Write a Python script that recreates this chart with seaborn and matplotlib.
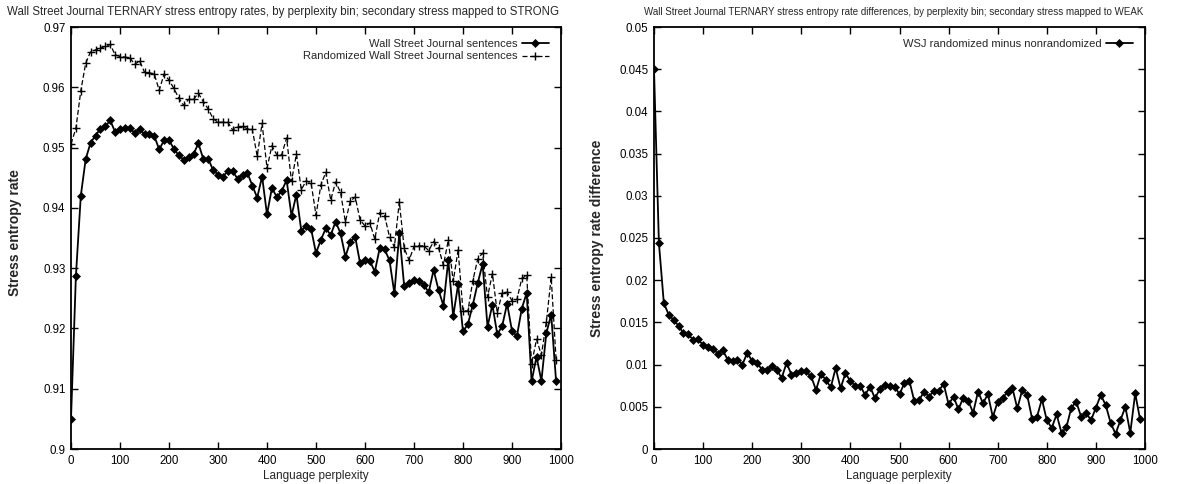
import numpy as np
import pandas as pd
import seaborn as sns
import matplotlib.pyplot as plt

# perplexity bins (lower edge of each bin of width 10)
perplexity = list(range(0, 1000, 10))

# stress entropy rate, WSJ sentences (secondary -> STRONG)
wsj_rate = [
    0.9050, 0.9287, 0.9420, 0.9481, 0.9508, 0.9520, 0.9531, 0.9535, 0.9545, 0.9526,
    0.9531, 0.9532, 0.9533, 0.9524, 0.9531, 0.9522, 0.9522, 0.9519, 0.9497, 0.9512,
    0.9512, 0.9498, 0.9487, 0.9480, 0.9484, 0.9489, 0.9507, 0.9481, 0.9481, 0.9463,
    0.9455, 0.9452, 0.9461, 0.9461, 0.9448, 0.9455, 0.9458, 0.9437, 0.9417, 0.9452,
    0.9389, 0.9433, 0.9418, 0.9428, 0.9446, 0.9387, 0.9422, 0.9362, 0.9370, 0.9365,
    0.9325, 0.9347, 0.9366, 0.9355, 0.9377, 0.9358, 0.9319, 0.9344, 0.9352, 0.9308,
    0.9313, 0.9312, 0.9294, 0.9333, 0.9331, 0.9313, 0.9258, 0.9358, 0.9270, 0.9276,
    0.9281, 0.9278, 0.9272, 0.9260, 0.9297, 0.9264, 0.9238, 0.9313, 0.9220, 0.9273,
    0.9195, 0.9207, 0.9239, 0.9275, 0.9307, 0.9203, 0.9239, 0.9190, 0.9204, 0.9241,
    0.9196, 0.9187, 0.9233, 0.9259, 0.9112, 0.9153, 0.9113, 0.9192, 0.9223, 0.9112,
]

# stress entropy rate, randomized WSJ sentences
random_rate = [
    0.9506, 0.9532, 0.9594, 0.9640, 0.9659, 0.9662, 0.9665, 0.9668, 0.9671, 0.9654,
    0.9651, 0.9650, 0.9649, 0.9638, 0.9644, 0.9625, 0.9624, 0.9622, 0.9595, 0.9622,
    0.9612, 0.9598, 0.9582, 0.9570, 0.9580, 0.9580, 0.9590, 0.9576, 0.9564, 0.9548,
    0.9542, 0.9542, 0.9542, 0.9529, 0.9534, 0.9535, 0.9531, 0.9530, 0.9486, 0.9540,
    0.9466, 0.9503, 0.9488, 0.9488, 0.9516, 0.9444, 0.9489, 0.9430, 0.9445, 0.9441,
    0.9388, 0.9438, 0.9459, 0.9413, 0.9443, 0.9426, 0.9377, 0.9411, 0.9418, 0.9380,
    0.9370, 0.9375, 0.9348, 0.9392, 0.9387, 0.9352, 0.9335, 0.9410, 0.9333, 0.9313,
    0.9336, 0.9337, 0.9337, 0.9329, 0.9344, 0.9334, 0.9305, 0.9346, 0.9278, 0.9330,
    0.9229, 0.9229, 0.9279, 0.9315, 0.9325, 0.9252, 0.9291, 0.9226, 0.9259, 0.9260,
    0.9246, 0.9248, 0.9283, 0.9288, 0.9141, 0.9182, 0.9156, 0.9210, 0.9285, 0.9148,
]

# randomized minus nonrandomized (secondary -> WEAK)
rate_diff = [
    0.0450, 0.0244, 0.0173, 0.0159, 0.0153, 0.0146, 0.0137, 0.0136, 0.0129, 0.0130,
    0.0123, 0.0121, 0.0119, 0.0113, 0.0117, 0.0106, 0.0104, 0.0106, 0.0100, 0.0114,
    0.0104, 0.0102, 0.0094, 0.0094, 0.0098, 0.0094, 0.0084, 0.0102, 0.0088, 0.0090,
    0.0092, 0.0092, 0.0086, 0.0070, 0.0089, 0.0082, 0.0073, 0.0096, 0.0072, 0.0090,
    0.0080, 0.0075, 0.0075, 0.0064, 0.0074, 0.0060, 0.0071, 0.0076, 0.0075, 0.0074,
    0.0065, 0.0078, 0.0081, 0.0057, 0.0058, 0.0068, 0.0062, 0.0069, 0.0069, 0.0077,
    0.0053, 0.0062, 0.0047, 0.0061, 0.0057, 0.0043, 0.0068, 0.0054, 0.0065, 0.0038,
    0.0056, 0.0060, 0.0068, 0.0072, 0.0048, 0.0070, 0.0064, 0.0036, 0.0038, 0.0059,
    0.0034, 0.0025, 0.0041, 0.0019, 0.0026, 0.0049, 0.0056, 0.0038, 0.0043, 0.0034,
    0.0049, 0.0064, 0.0052, 0.0031, 0.0018, 0.0034, 0.0050, 0.0019, 0.0066, 0.0035,
]

xticks = list(range(0, 1001, 100))
left_yticks = [0.9, 0.91, 0.92, 0.93, 0.94, 0.95, 0.96, 0.97]
right_yticks = [0, 0.005, 0.01, 0.015, 0.02, 0.025, 0.03, 0.035, 0.04, 0.045, 0.05]

sns.set_style("ticks")
plt.rcParams['font.family'] = ['Liberation Sans', 'DejaVu Sans']

fig = plt.figure(figsize=(11.9, 4.84), dpi=100)
ax1 = fig.add_axes([71 / 1190, 1 - 449 / 484, 490 / 1190, 422 / 484])
ax2 = fig.add_axes([654 / 1190, 1 - 449 / 484, 491 / 1190, 422 / 484])

df = pd.DataFrame({'perplexity': perplexity, 'wsj': wsj_rate,
                   'rand': random_rate, 'diff': rate_diff})

# seaborn gives markers a white edge by default, so set it back to black
diamond = dict(marker='D', markersize=3.8, markeredgewidth=0.5,
               markeredgecolor='black', markerfacecolor='black')

# left panel
sns.lineplot(data=df, x='perplexity', y='wsj', ax=ax1, color='black', lw=1.3,
             label='Wall Street Journal sentences', **diamond)
sns.lineplot(data=df, x='perplexity', y='rand', ax=ax1, color='black', lw=0.9,
             linestyle=(0, (4, 2)), marker='+', markersize=6,
             markeredgewidth=1.0, markeredgecolor='black',
             label='Randomized Wall Street Journal sentences')
ax1.set_xlim(0, 1000)
ax1.set_ylim(0.9, 0.97)
ax1.set_yticks(left_yticks)
ax1.set_yticklabels([f'{t:g}' for t in left_yticks])

# right panel
sns.lineplot(data=df, x='perplexity', y='diff', ax=ax2, color='black', lw=1.3,
             label='WSJ randomized minus nonrandomized', **diamond)
ax2.set_xlim(0, 1000)
ax2.set_ylim(0, 0.05)
ax2.set_yticks(right_yticks)
ax2.set_yticklabels([f'{t:g}' for t in right_yticks])

for ax in (ax1, ax2):
    ax.set_xticks(xticks)
    ax.set_xlabel('')
    ax.set_ylabel('')
    ax.tick_params(direction='in', top=True, right=True, length=5, width=1,
                   labelsize=8.3, pad=4, colors='black')
    for s in ax.spines.values():
        s.set_linewidth(1.3)
        s.set_color('black')
    ax.legend(loc='upper right', markerfirst=False, frameon=False,
              fontsize=8, handlelength=2.4, handletextpad=0.4,
              labelspacing=0.2, borderaxespad=0.7)

fig.text(283 / 1190, 1 - 12 / 484,
         'Wall Street Journal TERNARY stress entropy rates, by perplexity bin; '
         'secondary stress mapped to STRONG', ha='center', va='center', fontsize=8.3)
fig.text(894 / 1190, 1 - 12 / 484,
         'Wall Street Journal TERNARY stress entropy rate differences, by perplexity bin; '
         'secondary stress mapped to WEAK', ha='center', va='center', fontsize=7.0)
fig.text(15 / 1190, 1 - 233 / 484, 'Stress entropy rate', rotation=90,
         ha='center', va='center', fontsize=10, fontweight='bold')
fig.text(597 / 1190, 1 - 238 / 484, 'Stress entropy rate difference', rotation=90,
         ha='center', va='center', fontsize=10, fontweight='bold')
fig.text(316 / 1190, 1 - 476 / 484, 'Language perplexity', ha='center',
         va='center', fontsize=8.5)
fig.text(899 / 1190, 1 - 476 / 484, 'Language perplexity', ha='center',
         va='center', fontsize=8.5)

fig.savefig('out.png', dpi=100)
